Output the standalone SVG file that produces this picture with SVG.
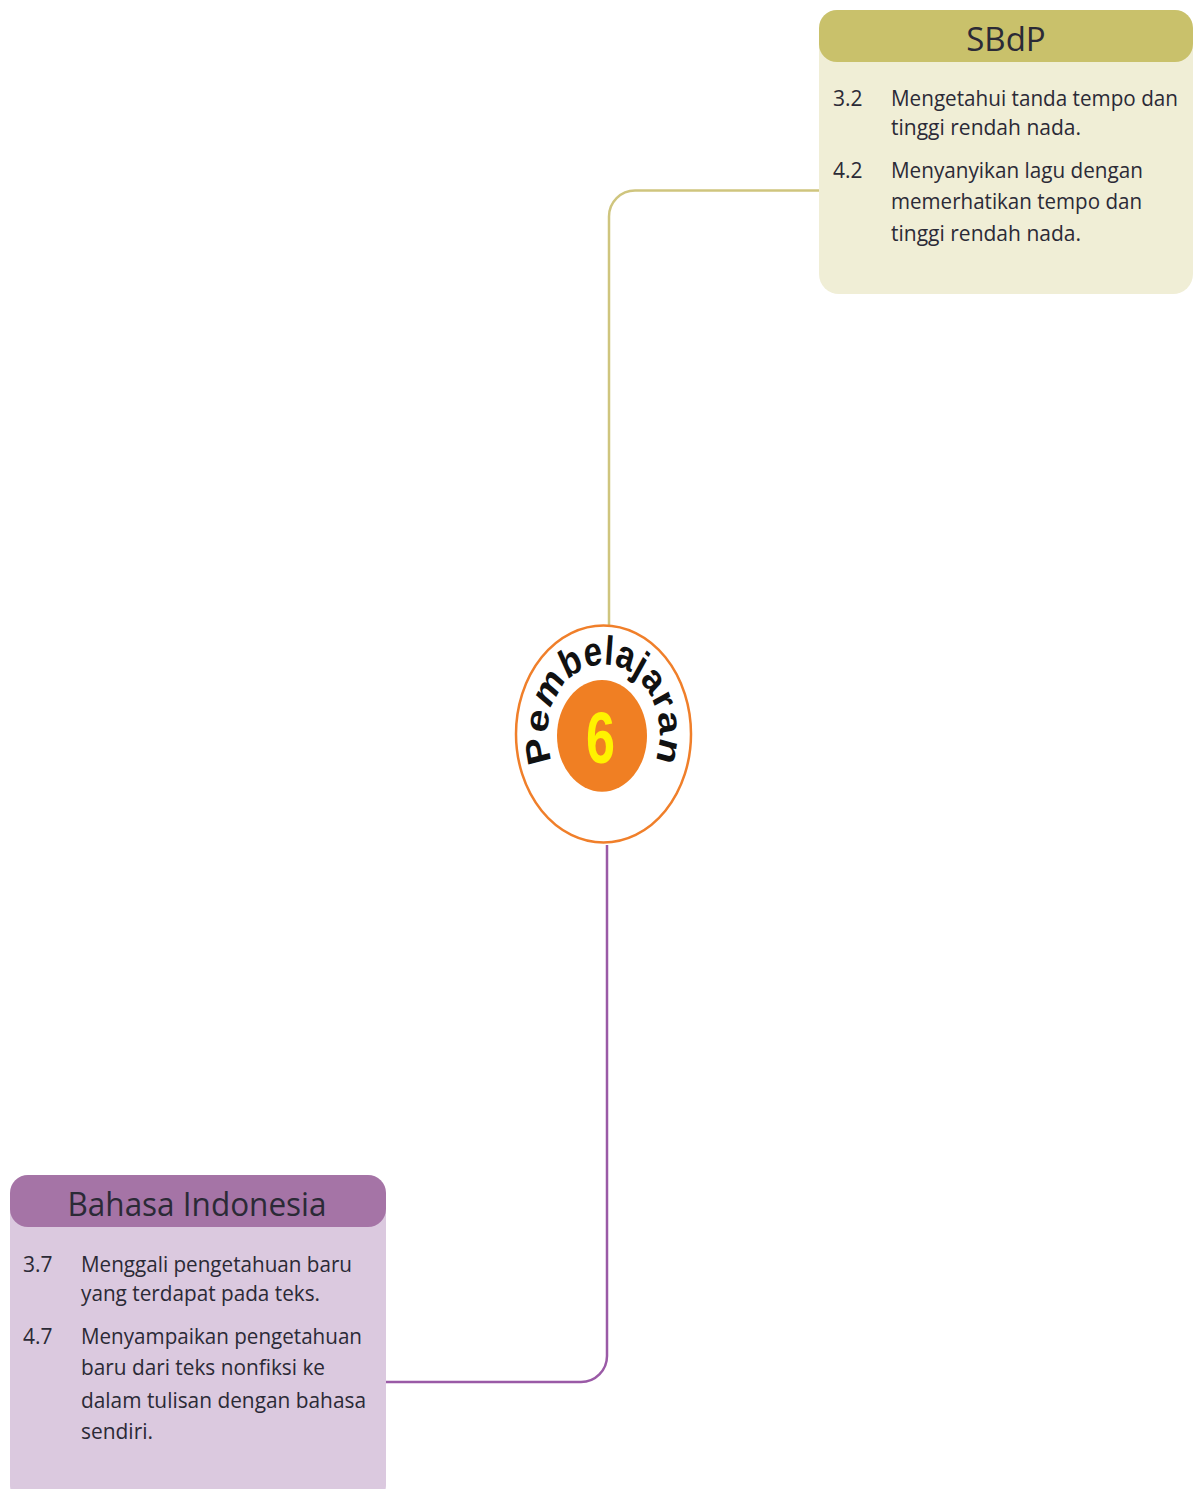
<svg xmlns="http://www.w3.org/2000/svg" width="1195" height="1489" viewBox="0 0 1195 1489">
<defs>
<style>
.t{font-family:"Open Sans","Liberation Sans",sans-serif;font-size:21px;fill:#2b2a36}
.h{font-family:"Open Sans","Liberation Sans",sans-serif;font-size:33px;fill:#2b2a36;text-anchor:middle}
.conn{fill:none;stroke-width:2.5}
</style>
<path id="arc" d="M -51.5 21.9 A 56 56 0 1 1 51.5 21.9"/>
</defs>
<rect width="1195" height="1489" fill="#ffffff"/>
<g id="connectors">
<path class="conn" stroke="#cfc57e" d="M 820 190.5 H 635 A 26 26 0 0 0 609 216.5 V 627"/>
<path class="conn" stroke="#9a5aa6" d="M 607 845 V 1356 A 26 26 0 0 1 581 1382 H 386"/>
</g>
<g id="center">
<g transform="translate(603.5,734) scale(1,1.24)">
<ellipse cx="0" cy="0" rx="87.5" ry="87.5" fill="#ffffff" stroke="#f07f2a" stroke-width="2.5" vector-effect="non-scaling-stroke"/>
<circle cx="-1.5" cy="1.5" r="45" fill="#f07f23"/>
<text x="-3" y="23" font-family="Liberation Sans,sans-serif" font-weight="bold" font-size="58" fill="#fff200" text-anchor="middle" textLength="29" lengthAdjust="spacingAndGlyphs">6</text>
<text font-family="Liberation Sans,sans-serif" font-weight="bold" font-size="33" fill="#111111" letter-spacing="0.5"><textPath href="#arc" startOffset="50%" text-anchor="middle">Pembelajaran</textPath></text>
</g>
</g>
<g id="sbdp">
<rect x="819" y="10" width="374" height="284" rx="20" fill="#f0eed6"/>
<rect x="819" y="10" width="374" height="52" rx="18" fill="#c9c16b"/>
<text class="h" x="1006" y="51">SBdP</text>
<text class="t" x="833" y="106">3.2</text>
<text class="t" x="891" y="106" textLength="287" lengthAdjust="spacingAndGlyphs">Mengetahui tanda tempo dan</text>
<text class="t" x="891" y="135" textLength="190" lengthAdjust="spacingAndGlyphs">tinggi rendah nada.</text>
<text class="t" x="833" y="178">4.2</text>
<text class="t" x="891" y="178" textLength="252" lengthAdjust="spacingAndGlyphs">Menyanyikan lagu dengan</text>
<text class="t" x="891" y="209" textLength="251" lengthAdjust="spacingAndGlyphs">memerhatikan tempo dan</text>
<text class="t" x="891" y="241" textLength="190" lengthAdjust="spacingAndGlyphs">tinggi rendah nada.</text>
</g>
<g id="bahasa">
<rect x="10" y="1175" width="376" height="330" rx="20" fill="#dbc9df"/>
<rect x="10" y="1175" width="376" height="52" rx="18" fill="#a574a6"/>
<text class="h" x="197" y="1216" textLength="259" lengthAdjust="spacingAndGlyphs">Bahasa Indonesia</text>
<text class="t" x="23" y="1272">3.7</text>
<text class="t" x="81" y="1272" textLength="271" lengthAdjust="spacingAndGlyphs">Menggali pengetahuan baru</text>
<text class="t" x="81" y="1301" textLength="239" lengthAdjust="spacingAndGlyphs">yang terdapat pada teks.</text>
<text class="t" x="23" y="1344">4.7</text>
<text class="t" x="81" y="1344" textLength="281" lengthAdjust="spacingAndGlyphs">Menyampaikan pengetahuan</text>
<text class="t" x="81" y="1375" textLength="244" lengthAdjust="spacingAndGlyphs">baru dari teks nonfiksi ke</text>
<text class="t" x="81" y="1408" textLength="285" lengthAdjust="spacingAndGlyphs">dalam tulisan dengan bahasa</text>
<text class="t" x="81" y="1439" textLength="72" lengthAdjust="spacingAndGlyphs">sendiri.</text>
</g>
</svg>
